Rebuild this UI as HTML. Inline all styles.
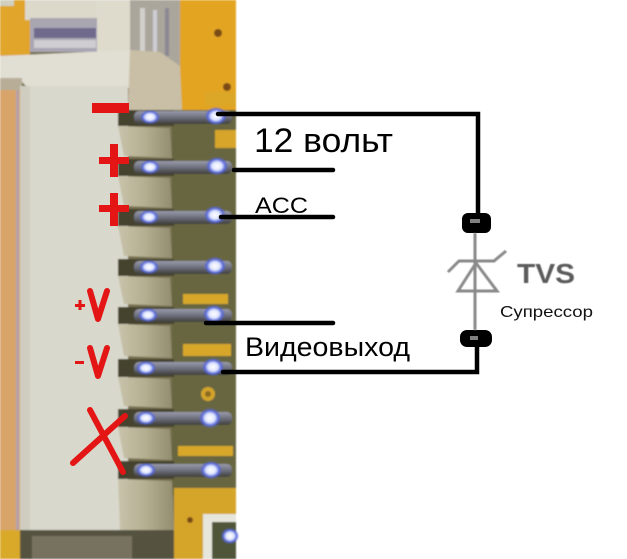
<!DOCTYPE html>
<html>
<head>
<meta charset="utf-8">
<style>
html,body{margin:0;padding:0;background:#fff;}
svg{display:block;}
</style>
</head>
<body>
<svg width="627" height="559" viewBox="0 0 627 559" xmlns="http://www.w3.org/2000/svg">
<defs>
<filter id="b1" x="-5%" y="-5%" width="110%" height="110%"><feGaussianBlur stdDeviation="0.9"/></filter>
<filter id="b2"><feGaussianBlur stdDeviation="0.6"/></filter>
<linearGradient id="tooth" x1="0" x2="1" y1="0" y2="0">
<stop offset="0" stop-color="#c8c3aa"/>
<stop offset="0.5" stop-color="#b4ae91"/>
<stop offset="1" stop-color="#938d70"/>
</linearGradient>
<linearGradient id="pin" x1="0" x2="0" y1="0" y2="1">
<stop offset="0" stop-color="#9a9cac"/>
<stop offset="0.5" stop-color="#6d6f7c"/>
<stop offset="1" stop-color="#3e3e3a"/>
</linearGradient>
<radialGradient id="hl">
<stop offset="0" stop-color="#ffffff"/>
<stop offset="0.45" stop-color="#dfe6ff"/>
<stop offset="0.75" stop-color="#5566d8"/>
<stop offset="1" stop-color="#5566d8" stop-opacity="0"/>
</radialGradient>
</defs>
<rect x="0" y="0" width="627" height="559" fill="#ffffff"/>

<!-- PHOTO -->
<g filter="url(#b1)">
<rect x="0" y="0" width="236" height="559" fill="#76704f"/>
<!-- left strip -->
<rect x="0" y="50" width="22" height="509" fill="#d8a46a"/>
<rect x="16" y="90" width="3" height="440" fill="#b4a0a8"/>
<!-- top-left orange -->
<rect x="0" y="0" width="30" height="55" fill="#e0a52a"/>
<rect x="0" y="0" width="14" height="6" fill="#d0cfc0"/>
<!-- top light housing -->
<rect x="25" y="0" width="107" height="20" fill="#dcd9cb"/>
<rect x="30" y="18" width="68" height="34" fill="#a9a6b2"/>
<rect x="34" y="28" width="62" height="10" fill="#6f6a8c"/>
<rect x="34" y="40" width="62" height="8" fill="#cfccd2"/>
<rect x="97" y="0" width="35" height="56" fill="#dedbcd"/>
<!-- metal box -->
<rect x="130" y="0" width="52" height="66" fill="#aaa69c"/>
<rect x="140" y="8" width="5" height="50" fill="#d2d0cc"/>
<rect x="153" y="10" width="4" height="48" fill="#cfcdd4"/>
<rect x="165" y="8" width="4" height="48" fill="#8c8894"/>
<!-- right orange PCB top -->
<rect x="180" y="0" width="56" height="112" fill="#e3a424"/>
<circle cx="218" cy="33" r="4" fill="#7a4c14"/>
<circle cx="227" cy="87" r="4" fill="#7a4c14"/>
<!-- cap -->
<polygon points="0,56 130,50 132,88 30,90 22,82 0,80" fill="#e1ded3"/>
<rect x="0" y="78" width="22" height="12" fill="#b8ae98"/>
<!-- wedge -->
<polygon points="130,50 160,52 180,66 182,110 128,110" fill="#c9bfa6"/>
<!-- housing body -->
<rect x="20" y="86" width="108" height="446" fill="#d9d8cc"/>
<rect x="20" y="86" width="10" height="446" fill="#cfcdc0"/>
<!-- right PCB mid -->
<rect x="172" y="110" width="64" height="385" fill="#676641"/>
<rect x="205" y="92" width="31" height="14" fill="#dca628"/>
<!-- yellow traces -->
<rect x="215" y="130" width="21" height="18" fill="#d6a52a"/>
<rect x="183" y="294" width="45" height="10" fill="#d8a72b"/>
<rect x="183" y="344" width="48" height="12" fill="#d8a72b"/>
<rect x="178" y="446" width="55" height="10" fill="#d8a72b"/>
<circle cx="208" cy="394" r="7" fill="#d4a42a"/>
<circle cx="208" cy="394" r="3" fill="#8a6a20"/>
<!-- teeth -->
<polygon points="118,126 170,128 172,158 124,156" fill="url(#tooth)"/>
<polygon points="118,176 170,178 172,208 124,206" fill="url(#tooth)"/>
<polygon points="118,226 170,228 172,258 124,256" fill="url(#tooth)"/>
<polygon points="118,276 170,278 172,306 124,304" fill="url(#tooth)"/>
<polygon points="118,324 170,326 172,358 124,356" fill="url(#tooth)"/>
<polygon points="118,377 170,379 172,408 124,406" fill="url(#tooth)"/>
<polygon points="118,427 170,429 172,460 124,458" fill="url(#tooth)"/>
<polygon points="118,479 172,481 174,530 120,530" fill="url(#tooth)"/>
<!-- gaps at pin rows -->
<rect x="118" y="110" width="56" height="16" fill="#45422f"/>
<rect x="118" y="159" width="56" height="17" fill="#45422f"/>
<rect x="118" y="209" width="56" height="17" fill="#45422f"/>
<rect x="118" y="259" width="56" height="17" fill="#45422f"/>
<rect x="118" y="307" width="56" height="17" fill="#45422f"/>
<rect x="118" y="359" width="56" height="18" fill="#45422f"/>
<rect x="118" y="409" width="56" height="18" fill="#45422f"/>
<rect x="118" y="461" width="56" height="18" fill="#45422f"/>
<!-- bottom -->
<rect x="0" y="530" width="22" height="29" fill="#d9a92a"/>
<rect x="20" y="530" width="158" height="29" fill="#55523f"/>
<rect x="32" y="536" width="100" height="23" fill="#77725f"/>
<rect x="174" y="488" width="62" height="71" fill="#d5a52a"/>
<rect x="203" y="514" width="33" height="45" fill="#e6e6dc"/>
<rect x="212" y="522" width="24" height="37" fill="#4f5538"/>
<circle cx="190" cy="520" r="3" fill="#7a4c14"/>
<!-- pins -->
<g>
<rect x="134" y="111" width="98" height="13" rx="5" fill="url(#pin)"/>
<rect x="134" y="161" width="98" height="13" rx="5" fill="url(#pin)"/>
<rect x="134" y="211" width="98" height="13" rx="5" fill="url(#pin)"/>
<rect x="134" y="261" width="98" height="13" rx="5" fill="url(#pin)"/>
<rect x="134" y="309" width="98" height="13" rx="5" fill="url(#pin)"/>
<rect x="134" y="362" width="98" height="13" rx="5" fill="url(#pin)"/>
<rect x="134" y="412" width="98" height="13" rx="5" fill="url(#pin)"/>
<rect x="134" y="464" width="98" height="13" rx="5" fill="url(#pin)"/>
</g>
<g fill="url(#hl)">
<ellipse cx="150" cy="117" rx="10" ry="7"/><ellipse cx="216" cy="116" rx="11" ry="9"/>
<ellipse cx="150" cy="167" rx="10" ry="7"/><ellipse cx="217" cy="166" rx="11" ry="9"/>
<ellipse cx="149" cy="217" rx="10" ry="7"/><ellipse cx="215" cy="215" rx="11" ry="9"/>
<ellipse cx="149" cy="267" rx="10" ry="7"/><ellipse cx="215" cy="266" rx="11" ry="9"/>
<ellipse cx="148" cy="315" rx="10" ry="7"/><ellipse cx="214" cy="314" rx="11" ry="9"/>
<ellipse cx="146" cy="368" rx="10" ry="7"/><ellipse cx="213" cy="367" rx="11" ry="9"/>
<ellipse cx="146" cy="418" rx="10" ry="7"/><ellipse cx="210" cy="418" rx="11" ry="10"/>
<ellipse cx="146" cy="470" rx="10" ry="7"/><ellipse cx="211" cy="470" rx="11" ry="9"/>
<ellipse cx="230" cy="536" rx="9" ry="8"/>
</g>
</g>

<!-- RED MARKS -->
<g fill="#e31515" stroke="none">
<rect x="92" y="103" width="37" height="10"/>
<rect x="99" y="157" width="30" height="7"/>
<rect x="110" y="144" width="8" height="33"/>
<rect x="99" y="205" width="30" height="7"/>
<rect x="110" y="193" width="8" height="33"/>
<rect x="75" y="304" width="10" height="3"/>
<rect x="78.5" y="300" width="3" height="10"/>
<rect x="75" y="361" width="9" height="3"/>
</g>
<g stroke="#e31515" stroke-width="6" fill="none" stroke-linecap="round" stroke-linejoin="round">
<polyline points="90,291 98,319 107,291"/>
<polyline points="90,348 98,376 107,348"/>
<line x1="73" y1="463" x2="125" y2="416"/>
<line x1="90" y1="410" x2="123" y2="472"/>
</g>

<!-- WIRES -->
<g stroke="#000" stroke-width="4.5" fill="none" stroke-linecap="round" stroke-linejoin="miter">
<polyline points="218,114 478,114 478,216"/>
<line x1="234" y1="170" x2="333" y2="170"/>
<line x1="221" y1="217" x2="333" y2="217"/>
<line x1="206" y1="323" x2="333" y2="323"/>
<polyline points="223,372 477,372 477,340"/>
</g>
<!-- blobs -->
<rect x="462" y="213" width="29" height="20" rx="6" fill="#000"/>
<rect x="470" y="219" width="10" height="4" fill="#fff" opacity="0.5"/>
<rect x="460" y="330" width="32" height="17" rx="7" fill="#000"/>
<rect x="470" y="336" width="8" height="4" fill="#fff" opacity="0.5"/>

<!-- TVS diode -->
<g filter="url(#b2)" stroke="#8a8a8a" stroke-width="3" fill="none" stroke-linejoin="miter">
<line x1="475" y1="233" x2="475" y2="330"/>
<polyline points="448,272 459,261 494,261 506,251"/>
<polygon points="476,263 458,291 497,291"/>
</g>

<!-- TEXT -->
<g font-family="'Liberation Sans', 'DejaVu Sans', sans-serif">
<text x="254" y="152" font-size="34" fill="#000" textLength="139" lengthAdjust="spacingAndGlyphs">12 вольт</text>
<text x="255" y="213" font-size="22" fill="#000" textLength="53" lengthAdjust="spacingAndGlyphs">ACC</text>
<text x="245" y="356" font-size="27" fill="#000" textLength="165" lengthAdjust="spacingAndGlyphs">Видеовыход</text>
<text x="517" y="283" font-size="28" font-weight="bold" fill="#5c5c5c" filter="url(#b2)" textLength="58" lengthAdjust="spacingAndGlyphs">TVS</text>
<text x="500" y="317" font-size="16" fill="#111" textLength="93" lengthAdjust="spacingAndGlyphs">Супрессор</text>
</g>
</svg>
</body>
</html>
